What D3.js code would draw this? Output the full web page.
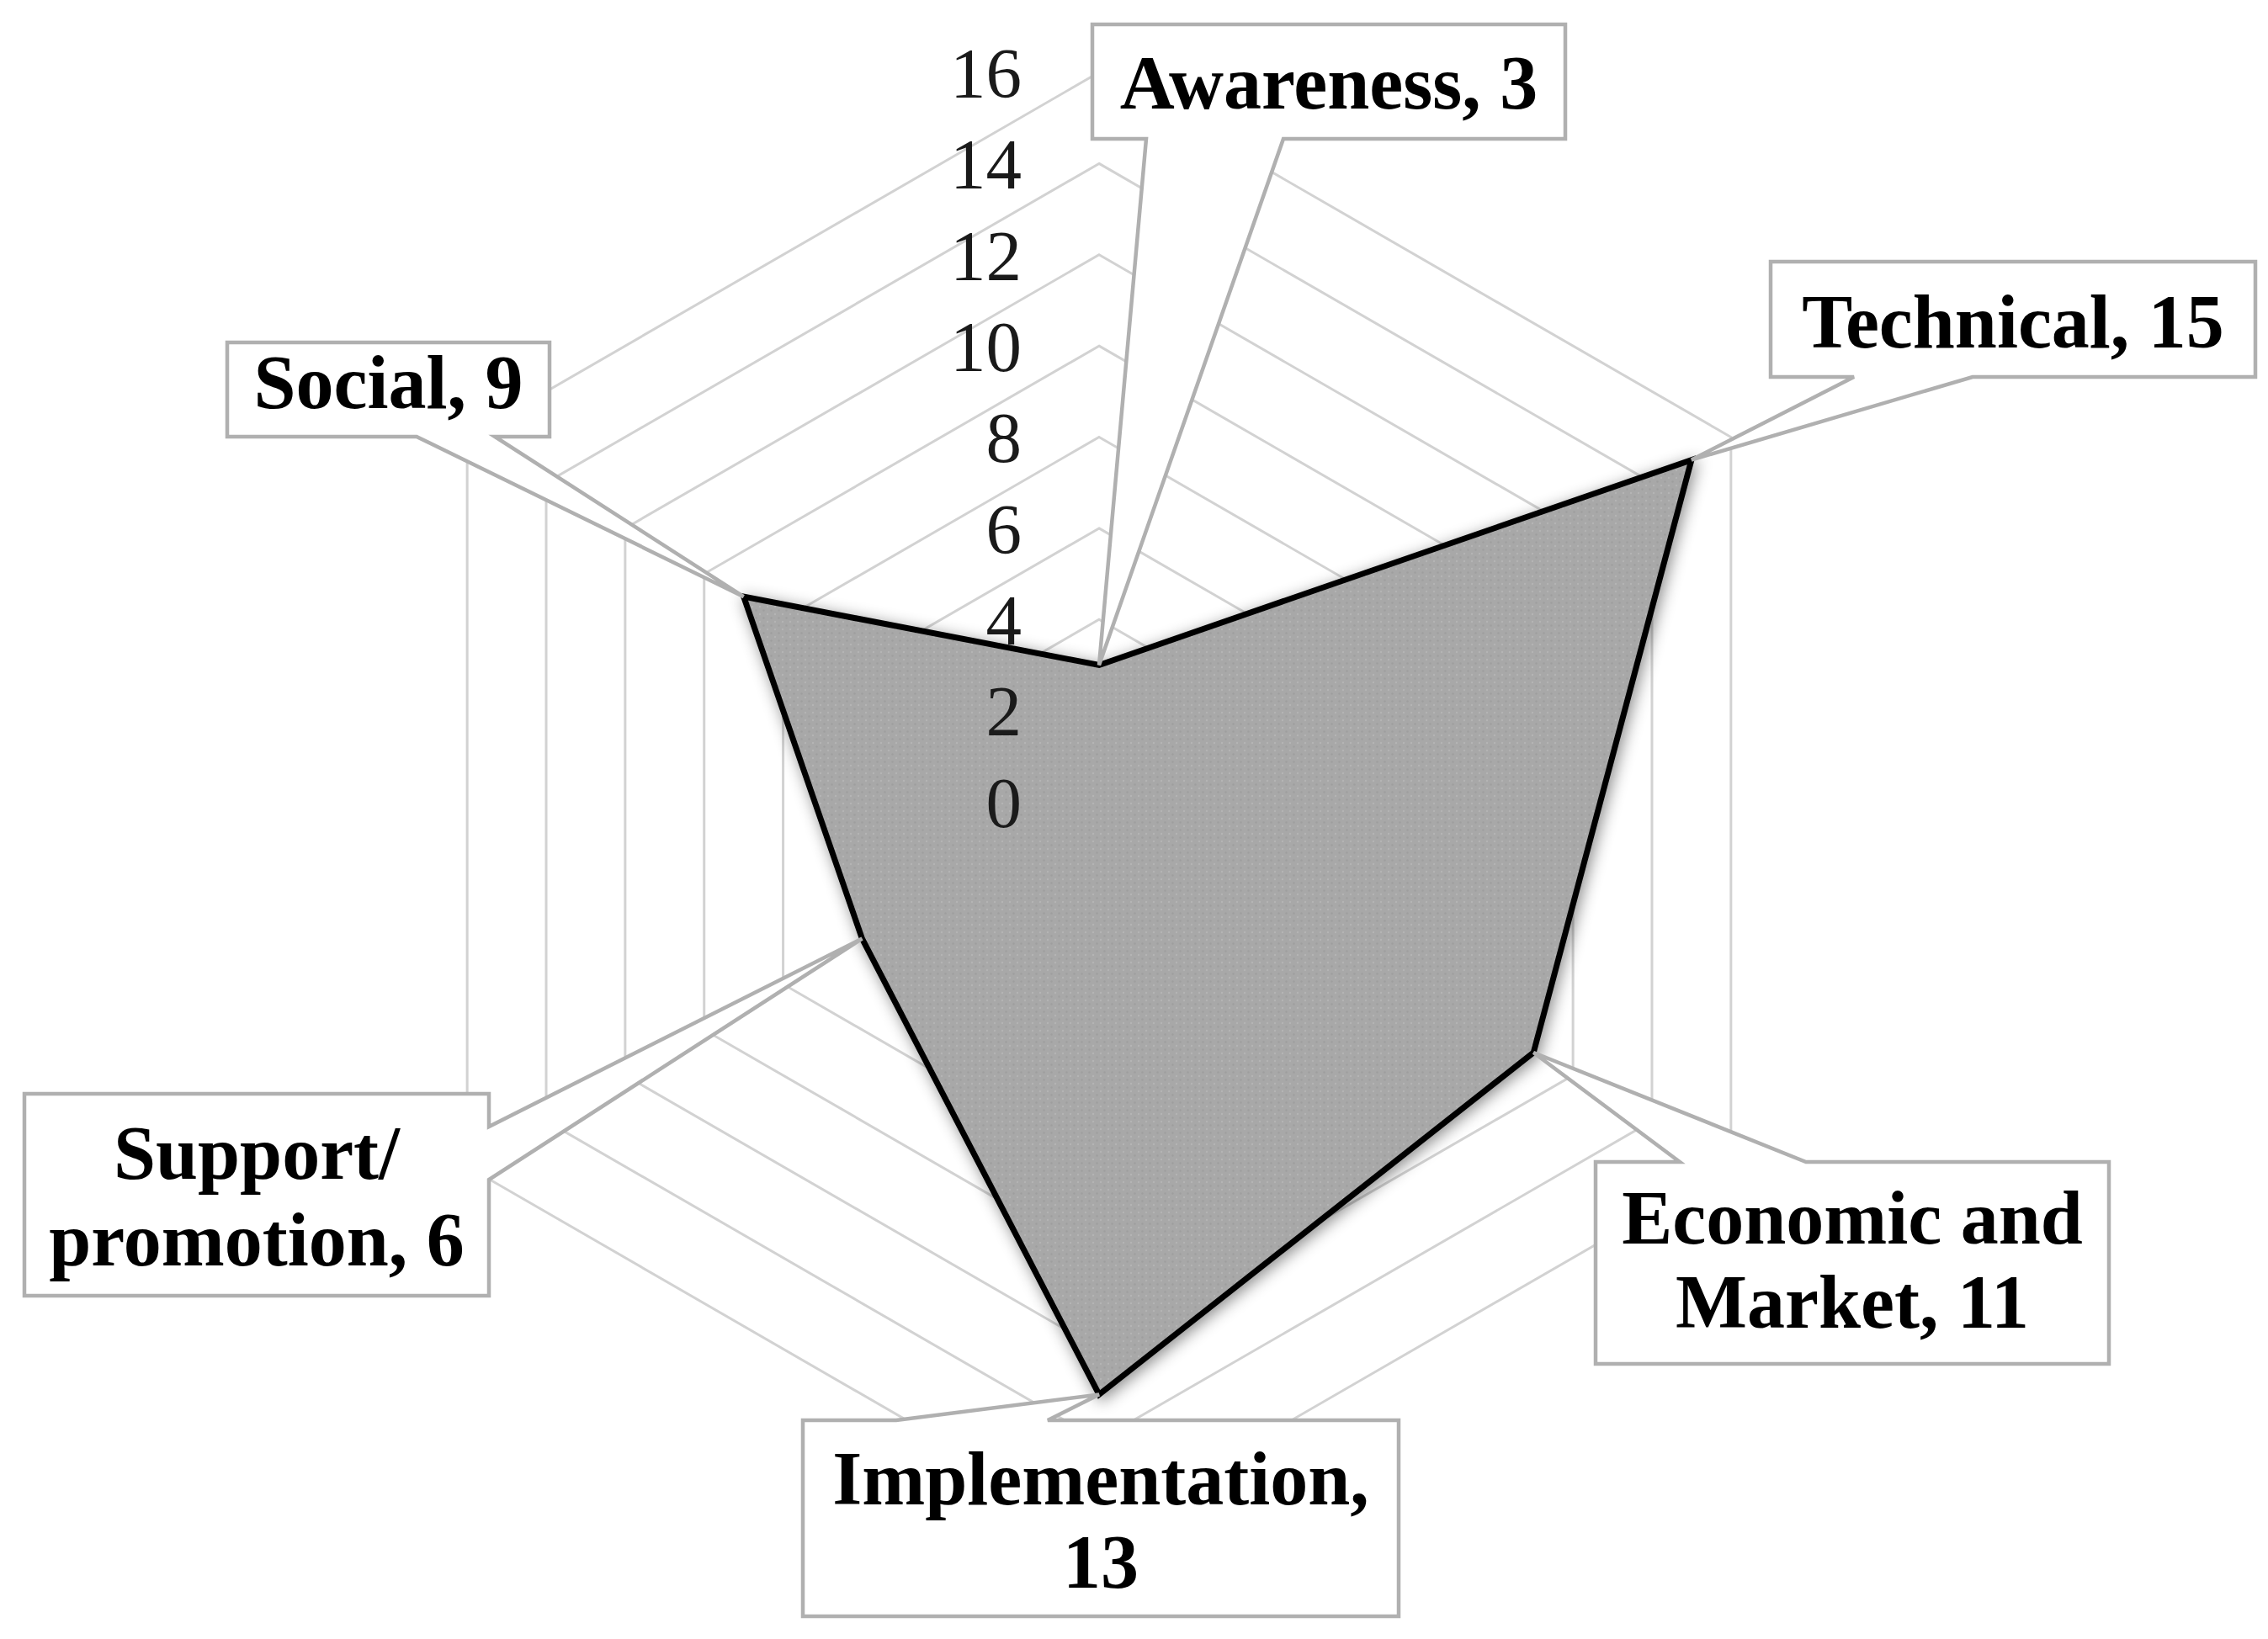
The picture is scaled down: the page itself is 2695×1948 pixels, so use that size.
<!DOCTYPE html>
<html>
<head>
<meta charset="utf-8">
<script src="https://cdn.jsdelivr.net/npm/d3@7"></script>
<style>
	html, body { margin: 0; padding: 0; background: #fff; }
	svg { display: block; }
</style>
</head>
<body>
<div id="container"></div>
<script>
// data
const categories = ["Awareness", "Technical", "Economic and Market", "Implementation", "Support/ promotion", "Social"]
const values = [3, 15, 11, 13, 6, 9]
const tickValues = [0, 2, 4, 6, 8, 10, 12, 14, 16]
// where each data label wraps (line breaks)
const labelLines = [
	["Awareness, 3"],
	["Technical, 15"],
	["Economic and", "Market, 11"],
	["Implementation,", "13"],
	["Support/", "promotion, 6"],
	["Social, 9"],
]

// dimensions
const width = 2695
const height = 1948
const cx = 1306
const cy = 953
const radius = 867

// callout boxes: rect, which side the pointer leaves from, and the pointer base
const callouts = [
	{ x0: 1298, y0: 29, x1: 1860, y1: 165, side: "bottom", a: 1362, b: 1525, base: 129, lh: 0 },
	{ x0: 2104, y0: 311, x1: 2680, y1: 448, side: "bottom", a: 2203, b: 2344, base: 413, lh: 0 },
	{ x0: 1896, y0: 1381, x1: 2506, y1: 1621, side: "top", a: 1996, b: 2146, base: 1478, lh: 100 },
	{ x0: 954, y0: 1688, x1: 1662, y1: 1921, side: "top", a: 1065, b: 1245, base: 1788, lh: 99 },
	{ x0: 29, y0: 1300, x1: 581, y1: 1540, side: "right", a: 1339, b: 1402, base: 1401, lh: 103 },
	{ x0: 270, y0: 407, x1: 653, y1: 519, side: "bottom", a: 495, b: 588, base: 485, lh: 0 },
]

const r = d3.scaleLinear().domain([0, 16]).range([0, radius])
const angle = d3.scaleLinear().domain([0, categories.length]).range([0, 2 * Math.PI])

const point = (v, i) => [cx + r(v) * Math.sin(angle(i)), cy - r(v) * Math.cos(angle(i))]

const svg = d3.select("#container")
	.append("svg")
	.attr("width", width)
	.attr("height", height)

const defs = svg.append("defs")

// dotted grey fill like the original
const pat = defs.append("pattern")
	.attr("id", "dots")
	.attr("width", 9)
	.attr("height", 9)
	.attr("patternUnits", "userSpaceOnUse")
pat.append("rect").attr("width", 9).attr("height", 9).attr("fill", "#a8a8a8")
pat.append("circle").attr("cx", 2).attr("cy", 2).attr("r", 1.2).attr("fill", "#b4b4b4")
pat.append("circle").attr("cx", 6.5).attr("cy", 6.5).attr("r", 1.2).attr("fill", "#9e9e9e")

const shadow = defs.append("filter")
	.attr("id", "shadow")
	.attr("x", "-10%").attr("y", "-10%")
	.attr("width", "120%").attr("height", "120%")
shadow.append("feDropShadow")
	.attr("dx", 3)
	.attr("dy", 4)
	.attr("stdDeviation", 9)
	.attr("flood-color", "#000")
	.attr("flood-opacity", 0.45)

const radial = d3.lineRadial()
	.angle((d, i) => angle(i))
	.radius(d => r(d))
	.curve(d3.curveLinearClosed)

const chart = svg.append("g").attr("transform", `translate(${cx},${cy})`)

// grid hexagons
chart.append("g")
	.selectAll("path")
	.data(tickValues.filter(t => t > 0))
	.join("path")
	.attr("d", t => radial(categories.map(() => t)))
	.attr("fill", "none")
	.attr("stroke", "#d2d2d2")
	.attr("stroke-width", 3)

// data polygon
chart.append("path")
	.attr("d", radial(values))
	.attr("fill", "url(#dots)")
	.attr("stroke", "#000")
	.attr("stroke-width", 7)
	.attr("stroke-linejoin", "miter")
	.attr("filter", "url(#shadow)")

// tick labels along top axis
svg.append("g")
	.selectAll("text")
	.data(tickValues)
	.join("text")
	.attr("x", cx - 92)
	.attr("y", t => cy - r(t))
	.attr("dy", "0.35em")
	.attr("text-anchor", "end")
	.attr("font-family", "'Liberation Serif', 'Times New Roman', serif")
	.attr("font-size", 85)
	.attr("fill", "#1a1a1a")
	.text(t => t)

// callouts
function calloutPath(c, tip) {
	const { x0, y0, x1, y1, side, a, b } = c
	const p = d3.path()
	p.moveTo(x0, y0)
	if (side === "top") { p.lineTo(a, y0); p.lineTo(tip[0], tip[1]); p.lineTo(b, y0) }
	p.lineTo(x1, y0)
	if (side === "right") { p.lineTo(x1, a); p.lineTo(tip[0], tip[1]); p.lineTo(x1, b) }
	p.lineTo(x1, y1)
	if (side === "bottom") { p.lineTo(b, y1); p.lineTo(tip[0], tip[1]); p.lineTo(a, y1) }
	p.lineTo(x0, y1)
	p.closePath()
	return p.toString()
}

const labels = svg.append("g")
	.selectAll("g")
	.data(categories)
	.join("g")

labels.append("path")
	.attr("d", (d, i) => calloutPath(callouts[i], point(values[i], i)))
	.attr("fill", "#fff")
	.attr("stroke", "#b0b0b0")
	.attr("stroke-width", 4.5)
	.attr("stroke-linejoin", "miter")

labels.each(function (d, i) {
	const c = callouts[i]
	d3.select(this).append("text")
		.attr("font-family", "'Liberation Serif', 'Times New Roman', serif")
		.attr("font-weight", "bold")
		.attr("font-size", 90)
		.attr("fill", "#000")
		.attr("text-anchor", "middle")
		.selectAll("tspan")
		.data(labelLines[i])
		.join("tspan")
		.attr("x", (c.x0 + c.x1) / 2)
		.attr("y", (l, j) => c.base + j * c.lh)
		.text(l => l)
})
</script>
</body>
</html>
